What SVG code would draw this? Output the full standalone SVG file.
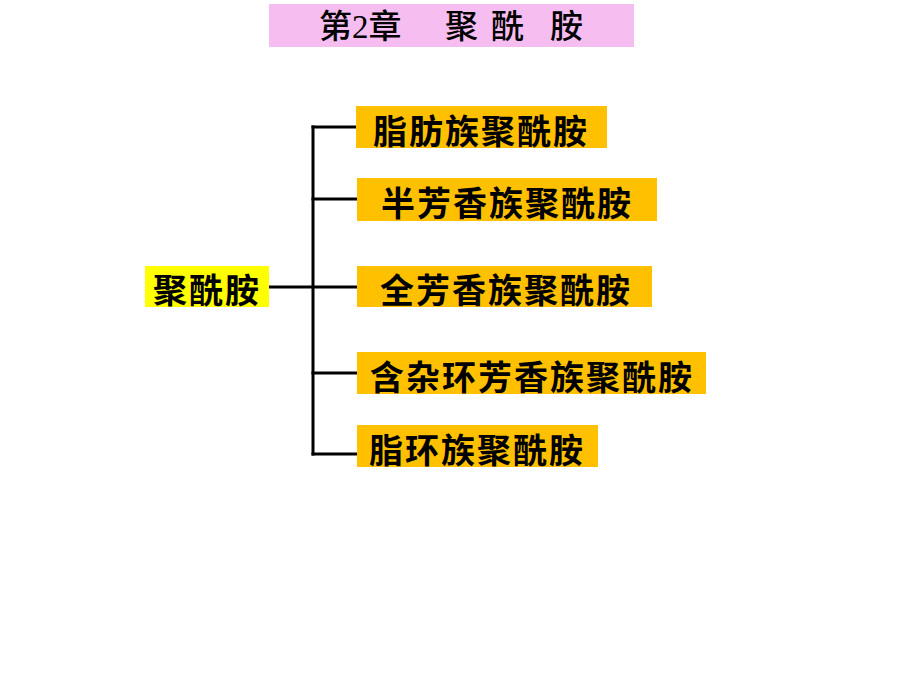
<svg xmlns="http://www.w3.org/2000/svg" width="920" height="690" viewBox="0 0 920 690">
<style>
.box{fill:#ffc000}
.root{fill:#ffff00}
.lbl{font-family:"Noto Sans CJK SC","Liberation Sans",sans-serif;font-weight:bold;font-size:34px;fill:#000;letter-spacing:2px;dominant-baseline:central}
.title{font-family:"Liberation Serif","Noto Sans CJK SC",serif;font-size:33px;font-weight:500;fill:#000;dominant-baseline:central}
.ln{stroke:#000;stroke-width:3;fill:none;stroke-linecap:square}
</style>
<rect width="920" height="690" fill="#fff"/>
<g id="title">
<rect x="269" y="4" width="365" height="43" fill="#f6bdf0"/>
<text class="title" y="27"><tspan x="319">第2章</tspan><tspan x="445">聚</tspan><tspan x="491">酰</tspan><tspan x="550">胺</tspan></text>
</g>
<g id="connectors">
<path class="ln" d="M313,127 V454"/>
<path class="ln" d="M313,127 H356 M313,199 H356 M313,373 H356 M313,454 H356"/>
<path class="ln" d="M270,287 H356"/>
</g>
<g id="root">
<rect class="root" x="145" y="266" width="124" height="41"/>
<text class="lbl" x="153" y="288">聚酰胺</text>
</g>
<g id="n1">
<rect class="box" x="356" y="106" width="251" height="42"/>
<text class="lbl" x="373" y="129">脂肪族聚酰胺</text>
</g>
<g id="n2">
<rect class="box" x="357" y="178" width="300" height="43"/>
<text class="lbl" x="381" y="201">半芳香族聚酰胺</text>
</g>
<g id="n3">
<rect class="box" x="357" y="266" width="295" height="41"/>
<text class="lbl" x="380" y="288">全芳香族聚酰胺</text>
</g>
<g id="n4">
<rect class="box" x="357" y="352" width="349" height="42"/>
<text class="lbl" x="370" y="375">含杂环芳香族聚酰胺</text>
</g>
<g id="n5">
<rect class="box" x="357" y="425" width="241" height="42"/>
<text class="lbl" x="369" y="448">脂环族聚酰胺</text>
</g>
</svg>
